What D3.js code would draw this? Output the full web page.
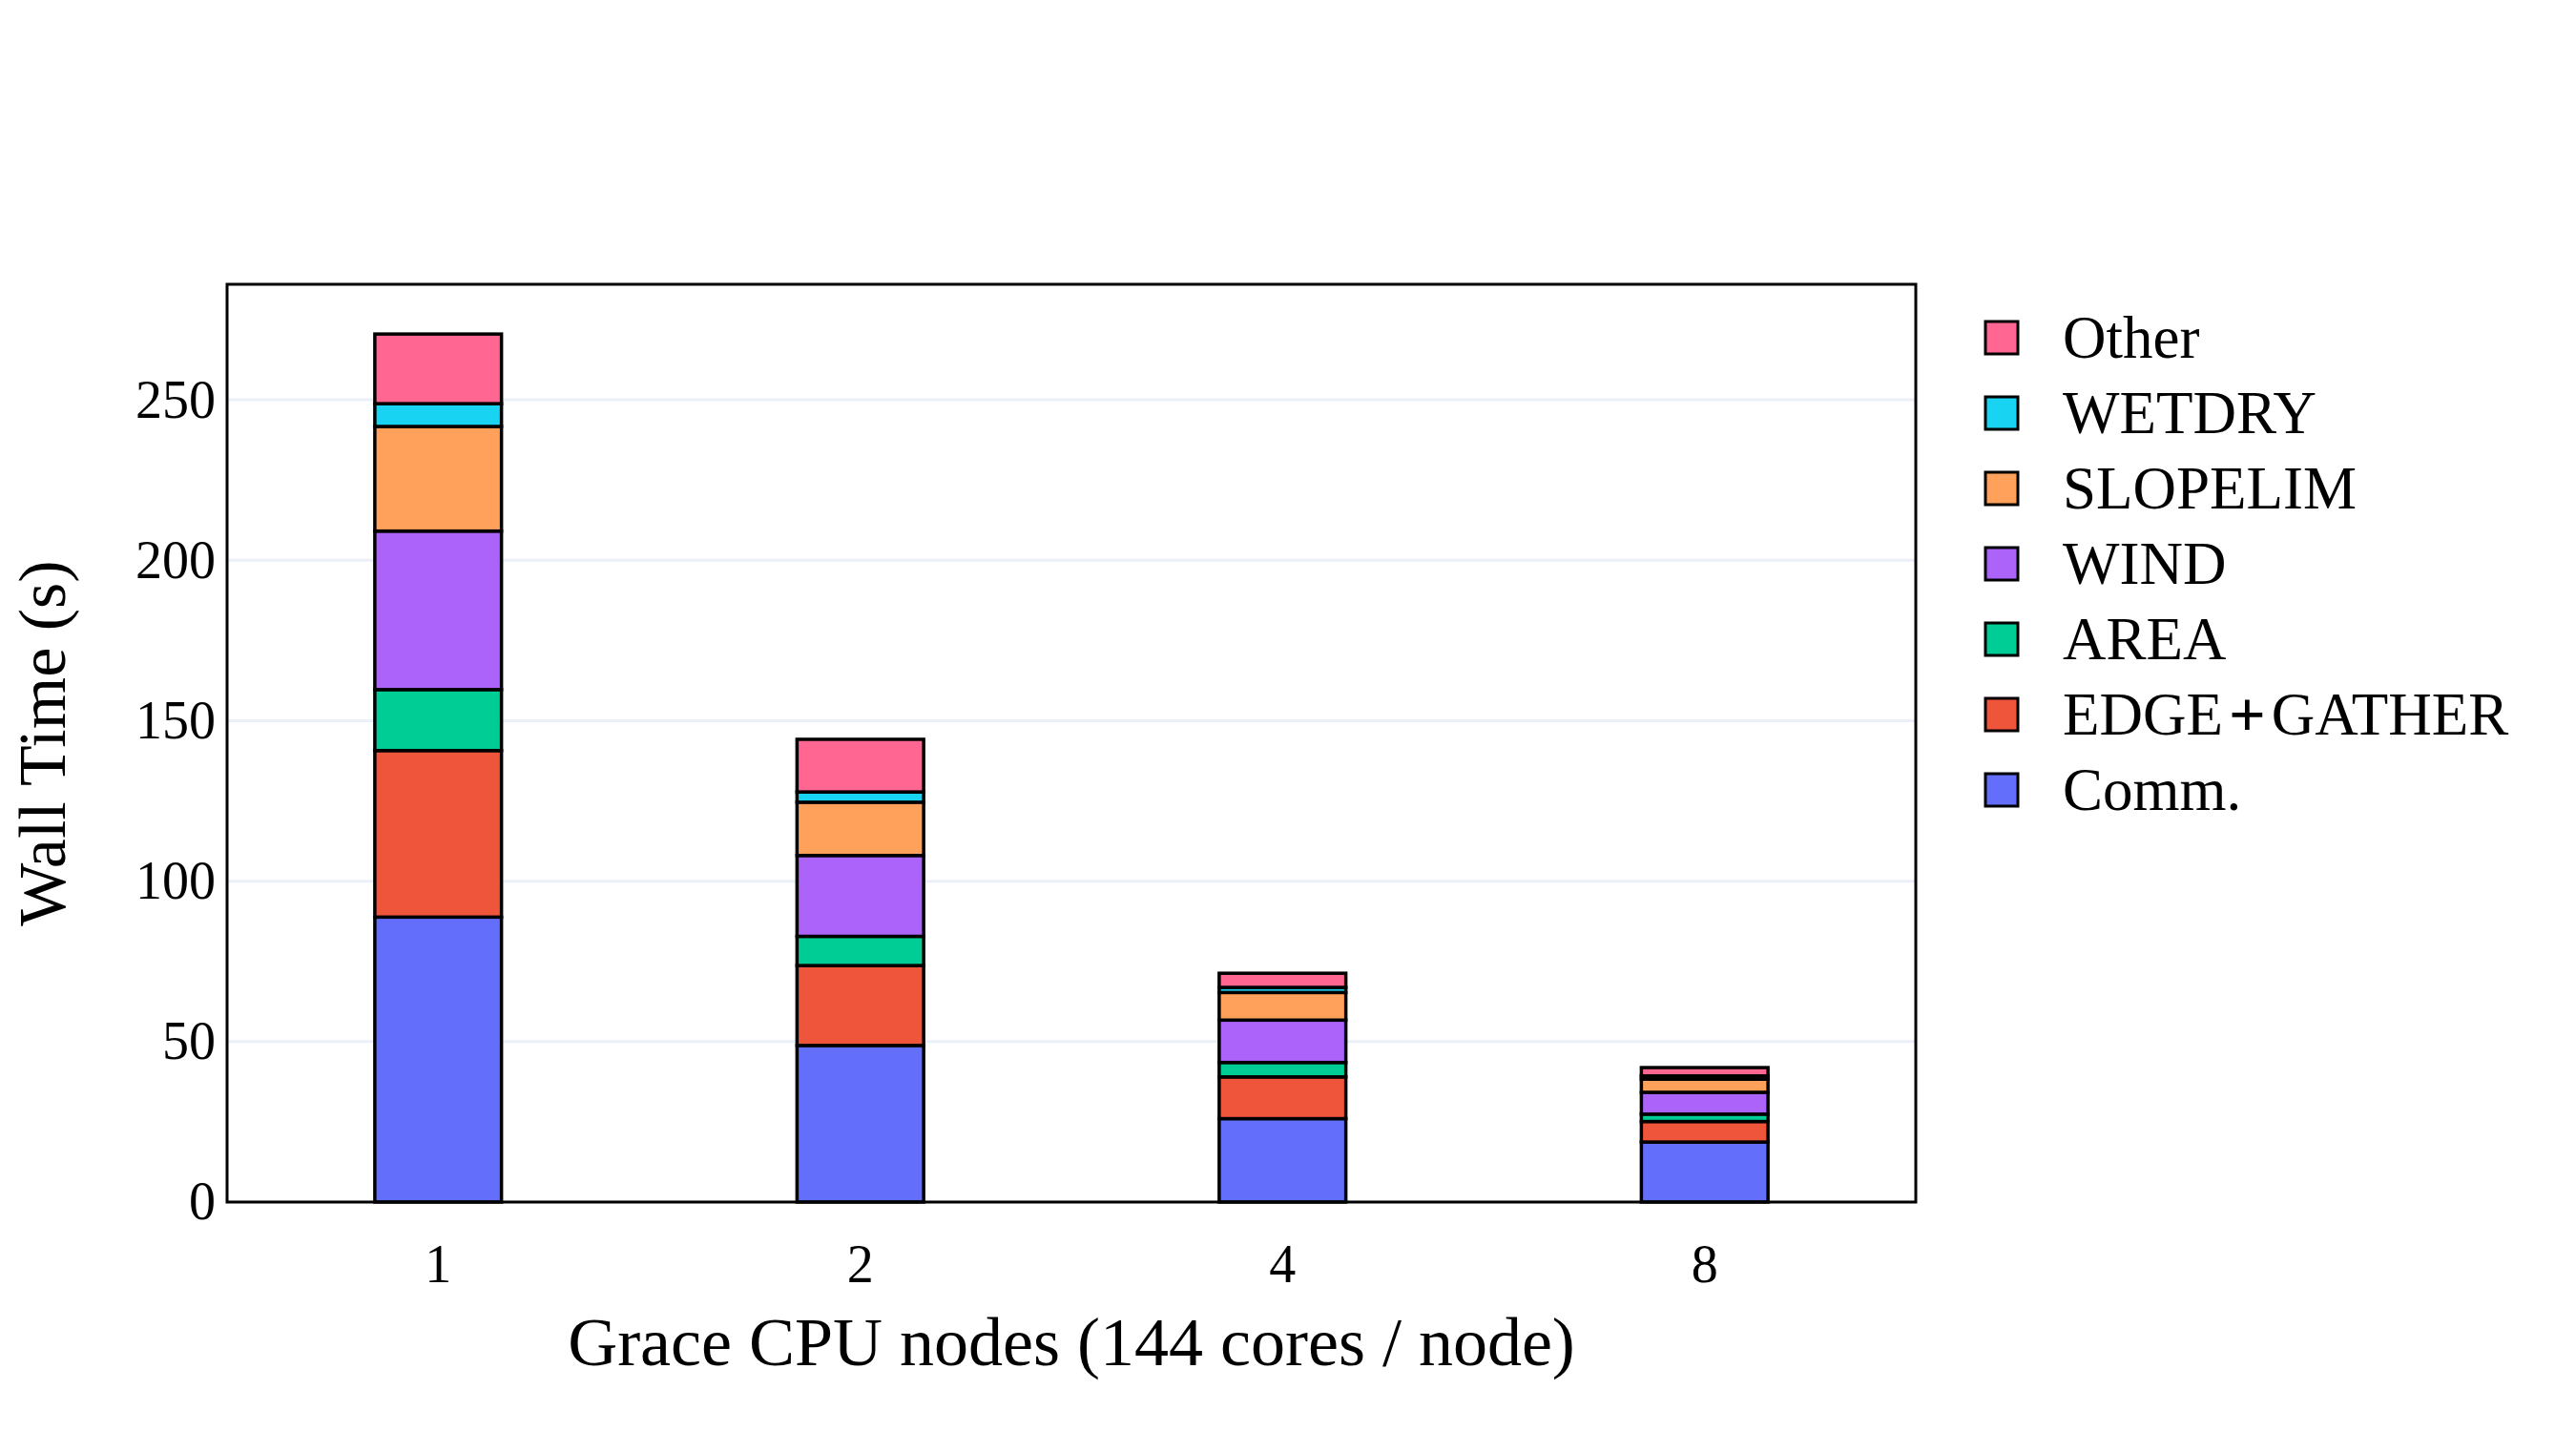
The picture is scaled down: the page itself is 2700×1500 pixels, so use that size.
<!DOCTYPE html>
<html>
<head>
<meta charset="utf-8">
<script src="https://cdn.jsdelivr.net/npm/d3@7/dist/d3.min.js"></script>
<style>
  body { margin: 0; background: #fff; }
  text { font-family: "Liberation Serif", "Times New Roman", serif; fill: #000; }
</style>
</head>
<body>
<div id="chart"></div>
<script>
// Wall time breakdown, stacked per node count
var nodes = ["1", "2", "4", "8"];
var comm = [88.8, 48.8, 26.0, 18.7];
var edgeGather = [51.9, 24.9, 13.0, 6.4];
var area = [19.0, 9.1, 4.5, 2.3];
var wind = [49.4, 25.2, 13.2, 6.8];
var slopelim = [32.6, 16.6, 8.6, 4.1];
var wetdry = [7.1, 3.2, 1.6, 1.0];
var other = [21.7, 16.4, 4.4, 2.6];

var seriesNames = ["Comm.", "EDGE+GATHER", "AREA", "WIND", "SLOPELIM", "WETDRY", "Other"];
var seriesValues = [comm, edgeGather, area, wind, slopelim, wetdry, other];
var seriesColors = ["#636EFA", "#EF553B", "#00CC96", "#AB63FA", "#FFA15A", "#19D3F3", "#FF6692"];
var yTicks = [0, 50, 100, 150, 200, 250];

var width = 2700;
var height = 1500;

// plot area
var PlotLeft = 238;
var PlotRight = 2008;
var PlotTop = 298;
var PlotBottom = 1260;

var svg = d3.select("#chart")
  .append("svg")
  .attr("width", width)
  .attr("height", height);

// build rows for d3.stack
var rows = nodes.map(function(n, i) {
  var row = { node: n };
  seriesNames.forEach(function(s, j) {
    row[s] = seriesValues[j][i];
  });
  return row;
});

var stacked = d3.stack().keys(seriesNames)(rows);

var xScale = d3.scaleBand()
  .domain(nodes)
  .range([PlotLeft, PlotRight])
  .padding(0);

var yScale = d3.scaleLinear()
  .domain([0, 286])
  .range([PlotBottom, PlotTop]);

var barWidth = xScale.bandwidth() * 0.3;

// gridlines
svg.append("g")
  .selectAll("line")
  .data(yTicks)
  .enter()
  .append("line")
  .attr("x1", PlotLeft)
  .attr("x2", PlotRight)
  .attr("y1", function(d) { return yScale(d); })
  .attr("y2", function(d) { return yScale(d); })
  .attr("stroke", "#EBF0F8")
  .attr("stroke-width", 3);

// bars
var layers = svg.append("g")
  .selectAll("g")
  .data(stacked)
  .enter()
  .append("g")
  .attr("fill", function(d, i) { return seriesColors[i]; });

layers.selectAll("rect")
  .data(function(d) { return d; })
  .enter()
  .append("rect")
  .attr("x", function(d) { return xScale(d.data.node) + (xScale.bandwidth() - barWidth) / 2; })
  .attr("y", function(d) { return yScale(d[1]); })
  .attr("width", barWidth)
  .attr("height", function(d) { return yScale(d[0]) - yScale(d[1]); })
  .attr("stroke", "#000")
  .attr("stroke-width", 3.5);

// frame
svg.append("rect")
  .attr("x", PlotLeft)
  .attr("y", PlotTop)
  .attr("width", PlotRight - PlotLeft)
  .attr("height", PlotBottom - PlotTop)
  .attr("fill", "none")
  .attr("stroke", "#000")
  .attr("stroke-width", 3);

// y tick labels
var YAxis = d3.axisLeft(yScale).tickValues(yTicks).tickSize(0).tickPadding(12);
var yG = svg.append("g")
  .attr("transform", "translate(" + PlotLeft + ",0)")
  .call(YAxis);
yG.select(".domain").remove();
yG.selectAll("text")
  .attr("font-size", 56)
  .attr("font-family", null);

// x tick labels
var XAxis = d3.axisBottom(xScale).tickSize(0).tickPadding(44);
var xG = svg.append("g")
  .attr("transform", "translate(0," + PlotBottom + ")")
  .call(XAxis);
xG.select(".domain").remove();
xG.selectAll("text")
  .attr("font-size", 56)
  .attr("font-family", null);

// axis titles
svg.append("text")
  .attr("x", (PlotLeft + PlotRight) / 2)
  .attr("y", 1431)
  .attr("text-anchor", "middle")
  .attr("font-size", 72)
  .text("Grace CPU nodes (144 cores / node)");

svg.append("text")
  .attr("transform", "translate(68," + (PlotTop + PlotBottom) / 2 + ")rotate(-90)")
  .attr("text-anchor", "middle")
  .attr("font-size", 70)
  .text("Wall Time (s)");

// legend, top entry is the last series
var legend = svg.append("g").attr("transform", "translate(2081,354)");
var legendOrder = seriesNames.slice().reverse();

legendOrder.forEach(function(name, i) {
  var idx = seriesNames.indexOf(name);
  var row = legend.append("g").attr("transform", "translate(0," + i * 79 + ")");
  row.append("rect")
    .attr("x", 0)
    .attr("y", -17)
    .attr("width", 34)
    .attr("height", 34)
    .attr("fill", seriesColors[idx])
    .attr("stroke", "#000")
    .attr("stroke-width", 3);
  var t = row.append("text")
    .attr("x", 81)
    .attr("y", 0)
    .attr("dominant-baseline", "central")
    .attr("font-size", 63);
  if (name === "EDGE+GATHER") {
    t.append("tspan").text("EDGE");
    t.append("tspan").attr("font-weight", "bold").attr("font-size", 68).attr("dx", 6).text("+");
    t.append("tspan").attr("dx", 6).text("GATHER");
  } else {
    t.text(name);
  }
});
</script>
</body>
</html>
